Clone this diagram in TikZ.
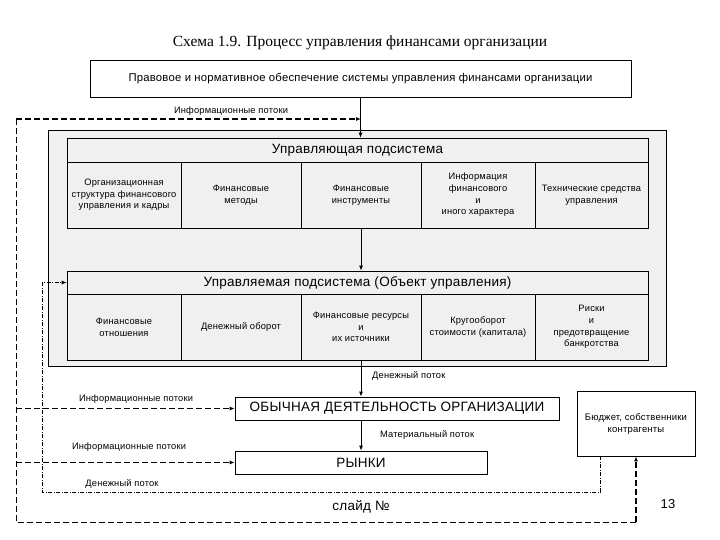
\documentclass[tikz,border=0pt]{standalone}
\usepackage{fontspec}
\setmainfont{Liberation Sans}[LetterSpace=2]
\newfontfamily\titlefont{Liberation Serif}
\usetikzlibrary{arrows.meta}
\tikzset{
  box/.style={draw, line width=0.7pt, inner sep=0pt, align=center, anchor=center},
  graybox/.style={box, fill=black!6},
  cell/.style={graybox, font=\fontsize{9.3}{11.7}\selectfont},
  hdr/.style={graybox, font=\fontsize{13.5}{15}\selectfont},
  lbl/.style={inner sep=0pt, font=\fontsize{9.3}{10}\selectfont},
  arr/.style={-{Latex[length=5pt,width=4pt]}, line width=0.9pt},
  infoflow/.style={line width=1.6pt, dash pattern=on 6pt off 3pt},
  thinflow/.style={line width=0.8pt, dash pattern=on 6pt off 3pt},
  moneyflow/.style={line width=0.7pt, dash pattern=on 4pt off 1.5pt on 1pt off 1.5pt}
}
\begin{document}
\begin{tikzpicture}[x=1pt,y=-1pt]
\path[use as bounding box] (0,0) rectangle (720,540);
% title
\node[inner sep=0pt, font=\titlefont\fontsize{15.5}{17}\selectfont] (title) at (360,43) {Схема 1.9. Процесс управления финансами организации};
% top box
\node[box, fill=white, minimum width=541pt, minimum height=37pt, font=\fontsize{11.3}{13}\selectfont] (top) at (360.5,78.5) {Правовое и нормативное обеспечение системы управления финансами организации};
% outer gray box
\node[graybox, minimum width=618pt, minimum height=236pt] (outer) at (357,248) {};
% upper subsystem
\node[hdr, minimum width=581pt, minimum height=24pt] (uh) at (357.5,150) {Управляющая подсистема};
\node[cell, minimum width=114pt, minimum height=66pt] (u1) at (124,195) {Организационная\\структура финансового\\управления и кадры};
\node[cell, minimum width=120pt, minimum height=66pt] (u2) at (241,195) {Финансовые\\методы};
\node[cell, minimum width=120pt, minimum height=66pt] (u3) at (361,195) {Финансовые\\инструменты};
\node[cell, minimum width=114pt, minimum height=66pt] (u4) at (478,195) {Информация\\финансового\\и\\иного характера};
\node[cell, minimum width=113pt, minimum height=66pt] (u5) at (591.5,195) {Технические средства\\управления};
% lower subsystem
\node[hdr, minimum width=581pt, minimum height=23pt] (lh) at (357.5,282.5) {Управляемая подсистема (Объект управления)};
\node[cell, minimum width=114pt, minimum height=66pt] (l1) at (124,327) {Финансовые\\отношения};
\node[cell, minimum width=120pt, minimum height=66pt] (l2) at (241,327) {Денежный оборот};
\node[cell, minimum width=120pt, minimum height=66pt] (l3) at (361,327) {Финансовые ресурсы\\и\\их источники};
\node[cell, minimum width=114pt, minimum height=66pt] (l4) at (478,327) {Кругооборот\\стоимости (капитала)};
\node[cell, minimum width=113pt, minimum height=66pt] (l5) at (591.5,327) {Риски\\и\\предотвращение\\банкротства};
% bottom boxes
\node[box, fill=white, minimum width=324pt, minimum height=23pt, font=\fontsize{13.5}{15}\selectfont] (ob) at (397,408.5) {ОБЫЧНАЯ ДЕЯТЕЛЬНОСТЬ ОРГАНИЗАЦИИ};
\node[box, fill=white, minimum width=252pt, minimum height=23pt, font=\fontsize{13.5}{15}\selectfont] (ry) at (361,462.5) {РЫНКИ};
\node[box, fill=white, minimum width=118pt, minimum height=65pt, font=\fontsize{9.5}{12}\selectfont] (bud) at (636,423.5) {Бюджет, собственники\\контрагенты};
% footer
\node[inner sep=0pt, font=\fontsize{13.5}{15}\selectfont] (slide) at (361,507) {слайд №};
\node[inner sep=0pt, font=\fontsize{13}{15}\selectfont] (num) at (668,504) {13};
% vertical solid arrows
\draw[arr] (top.south) -- (top.south |- uh.north);
\draw[arr] (u3.south) -- (u3.south |- lh.north);
\draw[arr] (l3.south) -- (l3.south |- ob.north);
\draw[arr] (l3.south |- ob.south) -- (l3.south |- ry.north);
\node[lbl, anchor=west] (lblmoney1) at (372,376) {Денежный поток};
\node[lbl, anchor=west] (lblmat) at (380,435) {Материальный поток};
% information flows
\coordinate (tl) at (16,119);
\coordinate (tj) at (361,119);
\coordinate (bl) at (16,522);
\coordinate (br) at (636,522);
\draw[infoflow, -{Latex[length=5pt,width=4pt]}] (tl) -- (tj);
\draw[thinflow] (tl) -- (bl) -- (br);
\draw[infoflow, -{Latex[length=5pt,width=4pt]}] (br) -- (bud.south);
\draw[infoflow, -{Latex[length=5pt,width=4pt]}] (16,408.5) -- (ob.west);
\draw[infoflow, -{Latex[length=5pt,width=4pt]}] (16,462.5) -- (ry.west);
\node[lbl] (lblinfo1) at (231,111) {Информационные потоки};
\node[lbl] (lblinfo2) at (136,399) {Информационные потоки};
\node[lbl] (lblinfo3) at (129,447) {Информационные потоки};
% money flow loop
\coordinate (mb) at (600,456);
\coordinate (mr) at (600,492);
\coordinate (ml) at (42,492);
\coordinate (mt) at (42,282.5);
\draw[moneyflow, -{Latex[length=5pt,width=4pt]}] (mb) -- (mr) -- (ml) -- (mt) -- (lh.west);
\node[lbl] (lblmoney2) at (122,484) {Денежный поток};
\end{tikzpicture}
\end{document}
